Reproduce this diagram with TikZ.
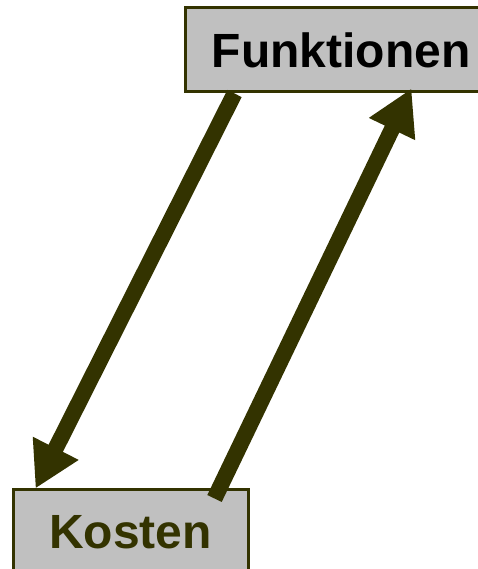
\documentclass[tikz,border=0pt]{standalone}
\usepackage{fontspec}
\setmainfont{Liberation Sans}
\usetikzlibrary{positioning, arrows.meta, calc}
\definecolor{boxcol}{RGB}{192,192,192}
\definecolor{olivecol}{RGB}{51,51,0}

\begin{document}
\begin{tikzpicture}[
			x=1pt,
			y=1pt,
			block/.style={
				draw=olivecol,
				line width=3pt,
				fill=boxcol,
				rectangle,
				minimum height=84pt,
				inner sep=0pt,
				font=\fontsize{48}{52}\selectfont\bfseries
			},
			link/.style={
				draw=olivecol,
				line width=16pt,
				-{Triangle[length=45pt,width=48pt]}
			}
			]
			\useasboundingbox (0,0) rectangle (477,569);
			% Boxes
			\node[block, minimum width=312pt] (fkt) at (341,519) {Funktionen};
			\node[block, minimum width=235pt, text=olivecol] (kst) at (130.5,37) {Kosten};
			
			% Arrows
			\coordinate (fktout) at ($(fkt.south west)+(51,0)$);
			\coordinate (kstin) at ($(kst.north west)+(24,0)$);
			\coordinate (kstout) at ($(kst.north west)+(203,-10)$);
			\coordinate (fktin) at ($(fkt.south west)+(228,5)$);
			\draw[link] (fktout) -- (kstin);
			\draw[link] (kstout) -- (fktin);
		\end{tikzpicture}
\end{document}
